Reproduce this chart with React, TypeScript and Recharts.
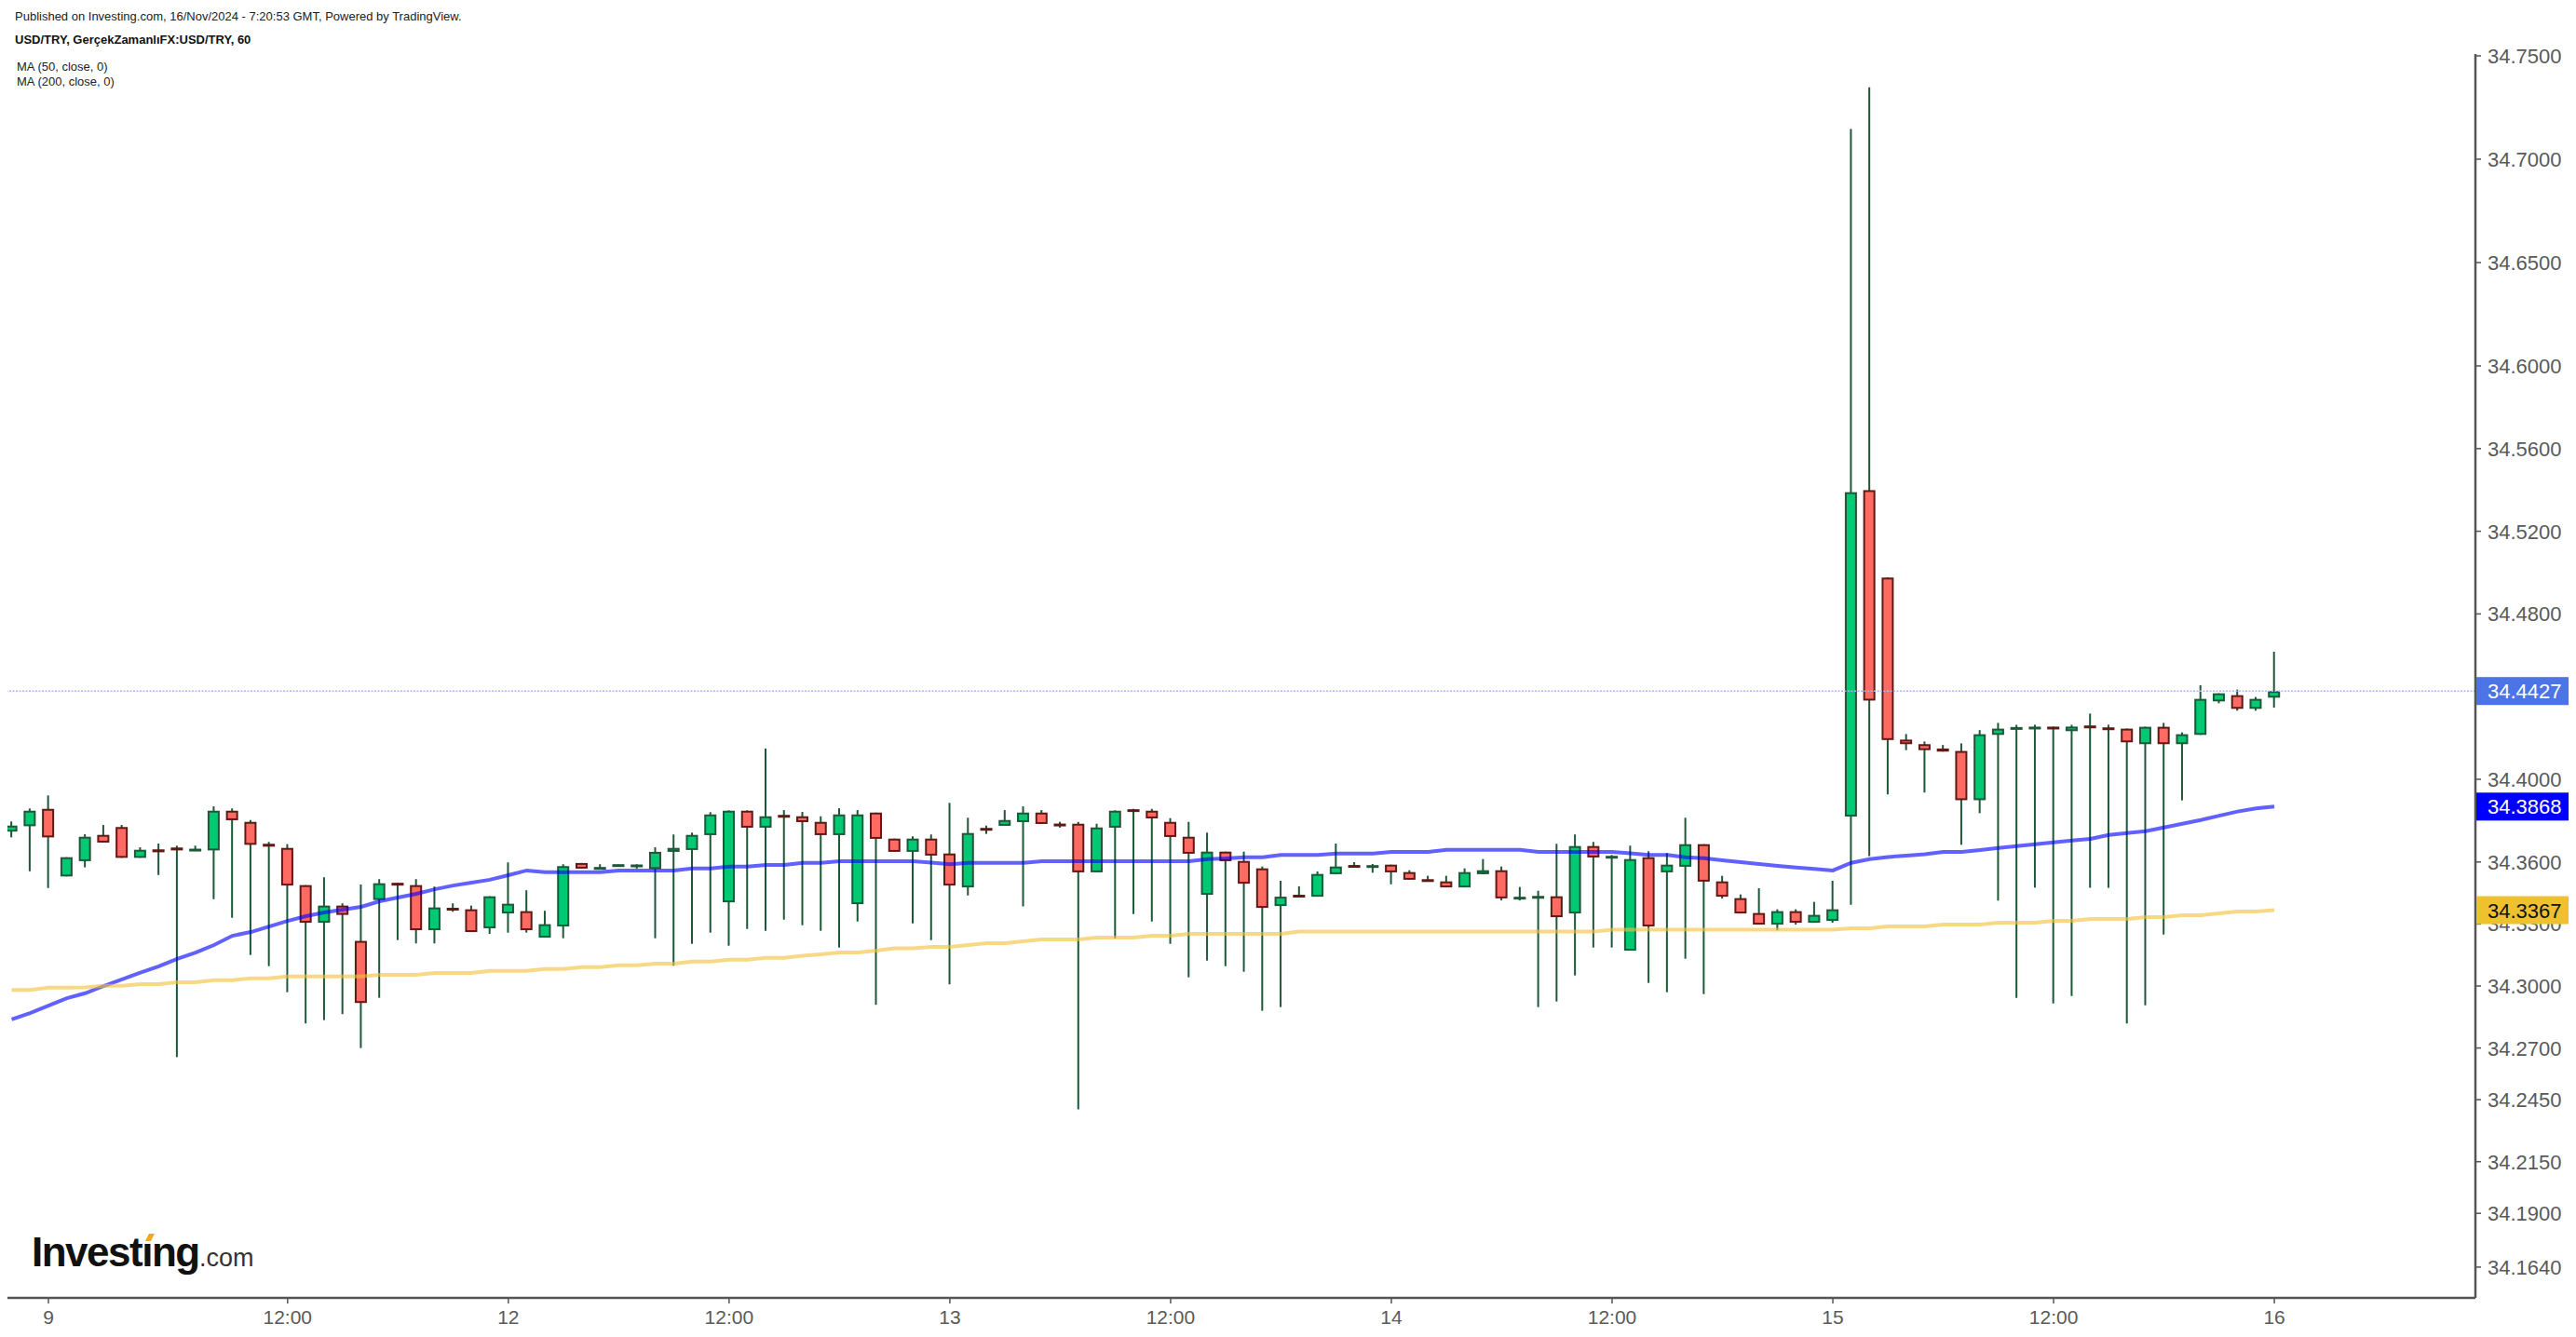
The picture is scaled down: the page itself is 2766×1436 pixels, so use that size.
import React from "react";
import { ComposedChart, Bar, Line, XAxis, YAxis, ReferenceLine } from "recharts";

// ---- data (hourly USD/TRY candles) ----
const OPEN = [
  34.3747, 34.3773, 34.3857, 34.353, 34.3604, 34.3731, 34.3769, 34.362, 34.3661, 34.367,
  34.3656, 34.3656, 34.3848, 34.3794, 34.3688, 34.3668, 34.3488, 34.3306, 34.3389, 34.3218,
  34.3416, 34.3499, 34.3488, 34.327, 34.3376, 34.3371, 34.3279, 34.3351, 34.3362, 34.3234,
  34.3288, 34.3595, 34.3568, 34.3577, 34.358, 34.3566, 34.3649, 34.3658, 34.373, 34.3405,
  34.3848, 34.3766, 34.3822, 34.3821, 34.3794, 34.373, 34.3396, 34.3839, 34.3713, 34.3649,
  34.3713, 34.3641, 34.3477, 34.3761, 34.3775, 34.3793, 34.3839, 34.3785, 34.3785, 34.355,
  34.3766, 34.385, 34.3848, 34.3794, 34.3722, 34.3441, 34.365, 34.3605, 34.3569, 34.3387,
  34.3437, 34.3432, 34.3541, 34.358, 34.3577, 34.3587, 34.3551, 34.3515, 34.3506, 34.3477,
  34.3541, 34.356, 34.3424, 34.3424, 34.3434, 34.3351, 34.3677, 34.3622, 34.3171, 34.3623,
  34.355, 34.3577, 34.3686, 34.3506, 34.3425, 34.3353, 34.3297, 34.3362, 34.3306, 34.3315,
  34.382, 34.5399, 34.4976, 34.4192, 34.417, 34.4149, 34.4137, 34.3899, 34.4215, 34.4245,
  34.4242, 34.4254, 34.4233, 34.4255, 34.4246, 34.4245, 34.417, 34.4254, 34.417, 34.4215,
  34.4377, 34.4407, 34.4341, 34.4395,
];
const HIGH = [
  34.3796, 34.3859, 34.3922, 34.3623, 34.3734, 34.3779, 34.3779, 34.3671, 34.3689, 34.3679,
  34.3679, 34.3869, 34.3859, 34.3803, 34.3697, 34.3686, 34.3488, 34.3526, 34.34, 34.3491,
  34.3517, 34.3499, 34.3517, 34.3481, 34.34, 34.3389, 34.3434, 34.3598, 34.3463, 34.3364,
  34.3589, 34.3595, 34.3589, 34.3588, 34.3589, 34.3671, 34.3733, 34.3742, 34.3841, 34.385,
  34.385, 34.4149, 34.3851, 34.3842, 34.3821, 34.386, 34.3851, 34.3839, 34.3713, 34.3724,
  34.3733, 34.3886, 34.3814, 34.3776, 34.3851, 34.3869, 34.3851, 34.3794, 34.3794, 34.3785,
  34.385, 34.3857, 34.3857, 34.3812, 34.3794, 34.3742, 34.365, 34.365, 34.3578, 34.3509,
  34.3482, 34.3554, 34.3689, 34.3599, 34.359, 34.3587, 34.356, 34.3533, 34.3533, 34.3569,
  34.3614, 34.3578, 34.3479, 34.3461, 34.3688, 34.3733, 34.3697, 34.3634, 34.3679, 34.3652,
  34.3643, 34.3814, 34.3686, 34.3533, 34.3443, 34.3473, 34.3371, 34.3371, 34.3407, 34.3509,
  34.7146, 34.7348, 34.4976, 34.4219, 34.4183, 34.4166, 34.4174, 34.4238, 34.4273, 34.4264,
  34.4264, 34.4254, 34.4264, 34.4318, 34.4264, 34.4245, 34.4254, 34.4273, 34.4227, 34.4455,
  34.4416, 34.4434, 34.4398, 34.4617,
];
const LOW = [
  34.3719, 34.3555, 34.3474, 34.353, 34.3574, 34.3694, 34.362, 34.362, 34.3537, 34.2656,
  34.3656, 34.342, 34.333, 34.315, 34.3096, 34.297, 34.2819, 34.2835, 34.2864, 34.27,
  34.2943, 34.3222, 34.3206, 34.3206, 34.3359, 34.3261, 34.3252, 34.3258, 34.3258, 34.3234,
  34.3231, 34.3568, 34.3568, 34.3577, 34.3568, 34.3231, 34.3098, 34.3204, 34.3258, 34.3195,
  34.3276, 34.3267, 34.3321, 34.3294, 34.3267, 34.3186, 34.3312, 34.2909, 34.3649, 34.3303,
  34.3222, 34.3008, 34.3438, 34.3736, 34.3775, 34.3385, 34.3784, 34.3766, 34.2403, 34.355,
  34.3231, 34.3348, 34.3312, 34.3204, 34.3042, 34.3123, 34.3096, 34.3069, 34.288, 34.2898,
  34.3432, 34.3432, 34.3541, 34.3577, 34.3548, 34.3492, 34.3514, 34.3505, 34.3477, 34.3477,
  34.3541, 34.3414, 34.3414, 34.2898, 34.2925, 34.3051, 34.3186, 34.3186, 34.3171, 34.3015,
  34.297, 34.3132, 34.2961, 34.3423, 34.3351, 34.3297, 34.327, 34.3297, 34.3306, 34.3306,
  34.3393, 34.3628, 34.3927, 34.4141, 34.3936, 34.4134, 34.3683, 34.3836, 34.3413, 34.2943,
  34.3476, 34.2916, 34.2952, 34.3475, 34.3475, 34.2819, 34.2907, 34.3249, 34.3898, 34.4215,
  34.4368, 34.4332, 34.4332, 34.4347,
];
const CLOSE = [
  34.3776, 34.3848, 34.3719, 34.3623, 34.3722, 34.3694, 34.362, 34.3659, 34.3647, 34.3656,
  34.3659, 34.3848, 34.3802, 34.3683, 34.3674, 34.3486, 34.3306, 34.3389, 34.3344, 34.2918,
  34.3497, 34.3486, 34.327, 34.338, 34.3367, 34.3261, 34.3434, 34.3398, 34.327, 34.3299,
  34.358, 34.3568, 34.357, 34.3588, 34.3582, 34.3649, 34.3668, 34.3731, 34.383, 34.3848,
  34.3766, 34.3821, 34.382, 34.3793, 34.373, 34.383, 34.383, 34.3712, 34.3649, 34.3713,
  34.3631, 34.3486, 34.374, 34.3755, 34.3803, 34.3839, 34.3784, 34.3773, 34.355, 34.3767,
  34.3848, 34.3847, 34.3811, 34.3721, 34.364, 34.365, 34.3604, 34.3495, 34.3378, 34.3432,
  34.3432, 34.3542, 34.3578, 34.3577, 34.3579, 34.355, 34.3514, 34.3505, 34.3477, 34.3551,
  34.356, 34.3424, 34.3426, 34.3434, 34.3333, 34.3677, 34.3622, 34.3624, 34.3614, 34.3288,
  34.3587, 34.3686, 34.3505, 34.3432, 34.3351, 34.3297, 34.3362, 34.3306, 34.3344, 34.3371,
  34.5389, 34.4381, 34.419, 34.417, 34.4141, 34.4134, 34.3899, 34.4218, 34.4245, 34.4247,
  34.4254, 34.4242, 34.4255, 34.4252, 34.4243, 34.4179, 34.4254, 34.417, 34.4218, 34.4389,
  34.4416, 34.4341, 34.4389, 34.4427,
];
const MA50 = [
  34.2838, 34.2869, 34.2905, 34.2941, 34.2965, 34.3, 34.3032, 34.3065, 34.3095, 34.3131,
  34.3162, 34.3198, 34.3243, 34.3261, 34.3288, 34.3315, 34.3338, 34.3356, 34.3369, 34.3383,
  34.341, 34.3428, 34.3446, 34.3468, 34.3486, 34.35, 34.3514, 34.3536, 34.3559, 34.3551,
  34.3551, 34.3551, 34.3551, 34.3559, 34.3559, 34.3559, 34.3559, 34.3569, 34.3569, 34.3578,
  34.3578, 34.3586, 34.3586, 34.3596, 34.3596, 34.3604, 34.3604, 34.3604, 34.3604, 34.3604,
  34.3597, 34.3589, 34.3596, 34.3596, 34.3596, 34.3596, 34.3604, 34.3604, 34.3604, 34.3604,
  34.3604, 34.3604, 34.3604, 34.3604, 34.3604, 34.3614, 34.3617, 34.3623, 34.3623, 34.3634,
  34.3634, 34.3634, 34.3641, 34.3641, 34.3641, 34.3649, 34.3649, 34.3649, 34.3659, 34.3659,
  34.3659, 34.3659, 34.3659, 34.3649, 34.3649, 34.3649, 34.3649, 34.3649, 34.3642, 34.3634,
  34.3634, 34.3623, 34.3618, 34.3608, 34.3599, 34.359, 34.3581, 34.3573, 34.3566, 34.3559,
  34.3596, 34.3614, 34.3624, 34.3631, 34.3637, 34.3649, 34.3649, 34.3658, 34.3668, 34.3677,
  34.3686, 34.3695, 34.3704, 34.3712, 34.3731, 34.374, 34.3749, 34.3767, 34.3785, 34.3803,
  34.3824, 34.3844, 34.3859, 34.3868,
];
const MA200 = [
  34.2981, 34.2981, 34.2992, 34.2992, 34.2993, 34.3001, 34.3001, 34.3009, 34.3009, 34.3018,
  34.3018, 34.3028, 34.3028, 34.3037, 34.3037, 34.3046, 34.3046, 34.3046, 34.3046, 34.3046,
  34.3054, 34.3054, 34.3054, 34.3063, 34.3063, 34.3063, 34.3073, 34.3073, 34.3073, 34.3082,
  34.3082, 34.3091, 34.3091, 34.31, 34.31, 34.3108, 34.3108, 34.3118, 34.3118, 34.3127,
  34.3127, 34.3136, 34.3136, 34.3146, 34.3153, 34.3162, 34.3162, 34.3171, 34.3182, 34.3182,
  34.3189, 34.3189, 34.3198, 34.3207, 34.3207, 34.3216, 34.3225, 34.3225, 34.3225, 34.3234,
  34.3234, 34.3234, 34.3243, 34.3243, 34.3252, 34.3252, 34.3252, 34.3252, 34.3252, 34.3252,
  34.3263, 34.3263, 34.3263, 34.3263, 34.3263, 34.3263, 34.3263, 34.3263, 34.3263, 34.3263,
  34.3263, 34.3263, 34.3263, 34.3263, 34.3263, 34.3263, 34.3263, 34.3272, 34.3272, 34.3272,
  34.3272, 34.3272, 34.3272, 34.3272, 34.3272, 34.3272, 34.3272, 34.3272, 34.3272, 34.3272,
  34.3279, 34.3279, 34.3288, 34.3288, 34.3288, 34.3297, 34.3297, 34.3297, 34.3306, 34.3306,
  34.3306, 34.3315, 34.3315, 34.3324, 34.3324, 34.3324, 34.3333, 34.3333, 34.3342, 34.3342,
  34.3351, 34.336, 34.336, 34.3367,
];

const X_TICK_INDEX = [2, 15, 27, 39, 51, 63, 75, 87, 99, 111, 123];
const X_TICK_LABELS = ["9", "12:00", "12", "12:00", "13", "12:00", "14", "12:00", "15", "12:00", "16"];
const Y_TICKS = [34.75, 34.7, 34.65, 34.6, 34.56, 34.52, 34.48, 34.4, 34.36, 34.33, 34.3, 34.27, 34.245, 34.215, 34.19, 34.164];

const LAST_PRICE = 34.4427;
const MA50_LAST = 34.3868;
const MA200_LAST = 34.3367;
const BADGE_VALUES = [LAST_PRICE, MA50_LAST, MA200_LAST];
const BADGE_BG = ["#4c74e6", "#0000ff", "#f0c12f"];
const BADGE_FG = ["#ffffff", "#ffffff", "#111111"];

const Y_DOMAIN: [number, number] = [34.1491, 34.7509];
const X_DOMAIN: [number, number] = [-0.228, 133.93];

const FONT = "'Liberation Sans', Arial, sans-serif";
const UP_FILL = "#00c974";
const DOWN_FILL = "#ff6a62";
const UP_BORDER = "#1d5838";
const DOWN_BORDER = "#5e1a15";
const WICK = "#1d5838";

const data = OPEN.map((o, i) => ({
  idx: i,
  open: o,
  high: HIGH[i],
  low: LOW[i],
  close: CLOSE[i],
  range: [LOW[i], HIGH[i]],
  ma50: MA50[i],
  ma200: MA200[i],
}));

const Candle = (props: any) => {
  const { x, y, width, height, payload } = props;
  if (!payload || x == null || y == null) return <g />;
  const { open, close, high, low } = payload;
  const yA = y;
  const yB = y + (height || 0);
  const yHi = Math.min(yA, yB);
  const yLo = Math.max(yA, yB);
  const span = high - low;
  const k = span > 0 ? (yLo - yHi) / span : 0;
  const yOf = (v: number) => yHi + (high - v) * k;
  const cx = x + width / 2;
  const up = close >= open;
  const yTop = yOf(Math.max(open, close));
  const yBot = yOf(Math.min(open, close));
  let top = yTop + 1;
  let h = yBot - yTop - 2;
  if (h < 1) {
    const mid = (yTop + yBot) / 2;
    top = mid - 0.5;
    h = 1;
  }
  return (
    <g>
      <line x1={cx} x2={cx} y1={yHi} y2={yLo} stroke={WICK} strokeWidth={2} />
      <rect
        x={cx - 5.5}
        y={top}
        width={11}
        height={h}
        fill={up ? UP_FILL : DOWN_FILL}
        stroke={up ? UP_BORDER : DOWN_BORDER}
        strokeWidth={2}
      />
    </g>
  );
};

const YTick = (props: any) => {
  const { x, y, payload } = props;
  const v = payload.value as number;
  const bi = BADGE_VALUES.findIndex((b) => Math.abs(b - v) < 1e-9);
  const label = v.toFixed(4);
  if (bi >= 0) {
    return (
      <g>
        <rect x={x - 12} y={y - 15} width={112} height={30} fill={BADGE_BG[bi]} />
        <text x={x} y={y} dy={8} fill={BADGE_FG[bi]} fontSize={22} fontFamily={FONT} textAnchor="start">
          {label}
        </text>
      </g>
    );
  }
  return (
    <text x={x} y={y} dy={8} fill="#5a5a5a" fontSize={22} fontFamily={FONT} textAnchor="start">
      {label}
    </text>
  );
};

export default function App() {
  return (
    <div style={{ position: "relative", width: 2758, height: 1428, background: "#ffffff" }}>
      <ComposedChart
        width={2758}
        height={1428}
        data={data}
        margin={{ top: 50, right: 0, bottom: 0, left: 0 }}
      >
        <XAxis
          dataKey="idx"
          type="number"
          domain={X_DOMAIN}
          allowDataOverflow
          ticks={X_TICK_INDEX}
          interval={0}
          height={42}
          tickFormatter={(v: number) => X_TICK_LABELS[X_TICK_INDEX.indexOf(v)] ?? ""}
          axisLine={{ stroke: "#555555", strokeWidth: 2.5 }}
          tickLine={{ stroke: "#555555", strokeWidth: 1.5 }}
          tickSize={6}
          tickMargin={7}
          tick={{ fill: "#5a5a5a", fontSize: 21, fontFamily: FONT }}
        />
        <YAxis
          orientation="right"
          type="number"
          domain={Y_DOMAIN}
          allowDataOverflow
          ticks={[...Y_TICKS, ...BADGE_VALUES]}
          interval={0}
          width={108}
          axisLine={{ stroke: "#555555", strokeWidth: 2.5 }}
          tickLine={{ stroke: "#555555", strokeWidth: 1.5 }}
          tickSize={6}
          tickMargin={7}
          tick={<YTick />}
        />
        <Bar dataKey="range" barSize={13} shape={(p: any) => <Candle {...p} />} isAnimationActive={false} />
        <Line
          type="linear"
          dataKey="ma50"
          stroke="#0000ff"
          strokeOpacity={0.62}
          strokeWidth={4}
          dot={false}
          activeDot={false}
          isAnimationActive={false}
        />
        <Line
          type="linear"
          dataKey="ma200"
          stroke="#f2c23a"
          strokeOpacity={0.62}
          strokeWidth={4}
          dot={false}
          activeDot={false}
          isAnimationActive={false}
        />
        <ReferenceLine y={LAST_PRICE} stroke="#a9b9f0" strokeWidth={1.5} strokeDasharray="2 1.5" />
      </ComposedChart>
      <svg
        width={2758}
        height={1428}
        style={{ position: "absolute", left: 0, top: 0, pointerEvents: "none" }}
      >
        <text x={8} y={13.7} fontSize={13} fontFamily={FONT} fill="#222222">
          Published on Investing.com, 16/Nov/2024 - 7:20:53 GMT, Powered by TradingView.
        </text>
        <text x={8} y={38.7} fontSize={13} fontWeight={700} fontFamily={FONT} fill="#111111">
          USD/TRY, GerçekZamanlıFX:USD/TRY, 60
        </text>
        <text x={10} y={68} fontSize={13} fontFamily={FONT} fill="#222222">
          MA (50, close, 0)
        </text>
        <text x={10} y={83.7} fontSize={13} fontFamily={FONT} fill="#222222">
          MA (200, close, 0)
        </text>
        <text x={26} y={1352} fontSize={44} fontWeight={700} letterSpacing={-1.5} fontFamily={FONT} fill="#111111">
          Investıng
        </text>
        <polygon points="148,1325 152,1317 158,1317 154,1325" fill="#f5a623" />
        <text x={206} y={1352} fontSize={27} fontFamily={FONT} fill="#333333">
          .com
        </text>
      </svg>
    </div>
  );
}
